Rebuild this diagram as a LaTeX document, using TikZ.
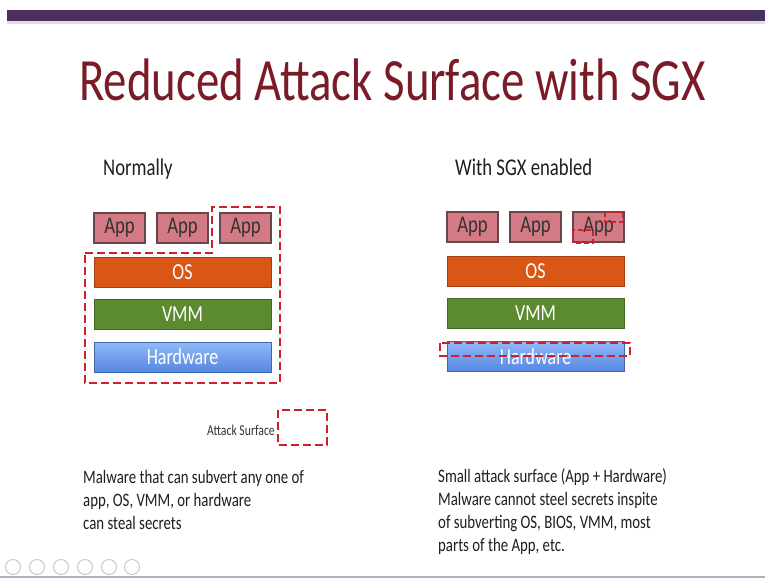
\documentclass[tikz,border=0pt]{standalone}
\usepackage{fontspec}
\setmainfont{Carlito}[FakeStretch=0.78]
\usetikzlibrary{arrows.meta, positioning}

\definecolor{titlered}{RGB}{122,28,40}
\definecolor{barpurple}{RGB}{75,48,95}
\definecolor{appfill}{RGB}{212,122,132}
\definecolor{appdraw}{RGB}{105,70,75}
\definecolor{osfill}{RGB}{218,86,20}
\definecolor{vmmfill}{RGB}{92,138,48}
\definecolor{hwtop}{RGB}{145,185,248}
\definecolor{hwbot}{RGB}{85,135,225}
\definecolor{dashred}{RGB}{208,30,45}
\definecolor{bodytext}{RGB}{30,30,30}

\begin{document}
\begin{tikzpicture}[
    x=1pt, y=-1pt,
    >=Latex,
    app/.style={draw=appdraw, line width=1.2pt, fill=appfill, minimum width=51pt, minimum height=30pt, inner sep=0pt, font=\fontsize{24}{26}\selectfont, text=black!80},
    layer/.style={draw=#1!75!black, line width=0.8pt, fill=#1, minimum width=177pt, minimum height=30pt, inner sep=0pt, font=\fontsize{23}{25}\selectfont, text=white},
    surface/.style={draw=dashred, line width=2.6pt, dash pattern=on 8pt off 4pt},
    body/.style={anchor=base west, align=left, inner sep=0pt, font=\fontsize{19}{23}\selectfont, text=bodytext},
    heading/.style={anchor=base west, inner sep=0pt, font=\fontsize{24}{26}\selectfont, text=bodytext},
    navring/.style={draw=black!25, line width=0.8pt},
    node distance=63pt
]
    \useasboundingbox (0,0) rectangle (765,578);
    \fill[white] (0,0) rectangle (765,578);

    % Balken und Titel
    \fill[black!12] (7,21) rectangle (765,24);
    \fill[barpurple] (7,10) rectangle (765,21);
    \node[anchor=base, inner sep=0pt, font=\fontsize{60}{60}\selectfont, text=titlered] (title) at (392.5,100) {Reduced Attack Surface with SGX};

    % Ueberschriften
    \node[heading] (normal) at (103,175) {Normally};
    \node[heading] (sgx) at (455,175) {With SGX enabled};

    % Linker Stapel
    \node[app] (lapp1) at (119.5,228) {App};
    \node[app, right of=lapp1] (lapp2) {App};
    \node[app, right of=lapp2] (lapp3) {App};
    \node[layer=osfill, below of=lapp2, node distance=44pt] (los) {OS};
    \node[layer=vmmfill, below of=los, node distance=42.5pt] (lvmm) {VMM};
    \node[layer=hwbot, top color=hwtop, bottom color=hwbot, below of=lvmm, node distance=42.5pt] (lhw) {Hardware};

    % Rechter Stapel
    \node[app] (rapp1) at (472.5,227) {App};
    \node[app, right of=rapp1] (rapp2) {App};
    \node[app, right of=rapp2] (rapp3) {App};
    \node[layer=osfill, below of=rapp2, node distance=44pt] (ros) {OS};
    \node[layer=vmmfill, below of=ros, node distance=42.5pt] (rvmm) {VMM};
    \node[layer=hwbot, top color=hwtop, bottom color=hwbot, below of=rvmm, node distance=43pt] (rhw) {Hardware};

    % Angriffsflaechen
    \draw[surface] (85,253) -- (212,253) -- (212,207) -- (280,207) -- (280,383) -- (85,383) -- cycle;
    \draw[surface] (440,343) rectangle (630,356);
    \draw[surface, line width=1.8pt, dash pattern=on 5pt off 3pt] (605,212) rectangle (623,222);
    \draw[surface, line width=1.8pt, dash pattern=on 5pt off 3pt] (573,230) rectangle (593,243);

    % Legende
    \draw[surface] (278,410) rectangle (327,445);
    \node[anchor=base east, inner sep=0pt, font=\fontsize{15}{17}\selectfont, text=black!80] (legend) at (275,435) {Attack Surface};

    % Erklaerungen (Anker auf der letzten Zeile)
    \node[body] (lefttext) at (83,529) {Malware that can subvert any one of\\app, OS, VMM, or hardware\\can steal secrets};
    \node[body] (righttext) at (438,551) {Small attack surface (App + Hardware)\\Malware cannot steel secrets inspite\\of subverting OS, BIOS, VMM, most\\parts of the App, etc.};

    % Navigationsleiste
    \foreach \x in {13,37,61,85,109,132}
        \draw[navring] (\x,567) circle[radius=7.5pt];
    \draw[draw=barpurple!40, line width=1.5pt] (0,577) -- (765,577);

\end{tikzpicture}
\end{document}
